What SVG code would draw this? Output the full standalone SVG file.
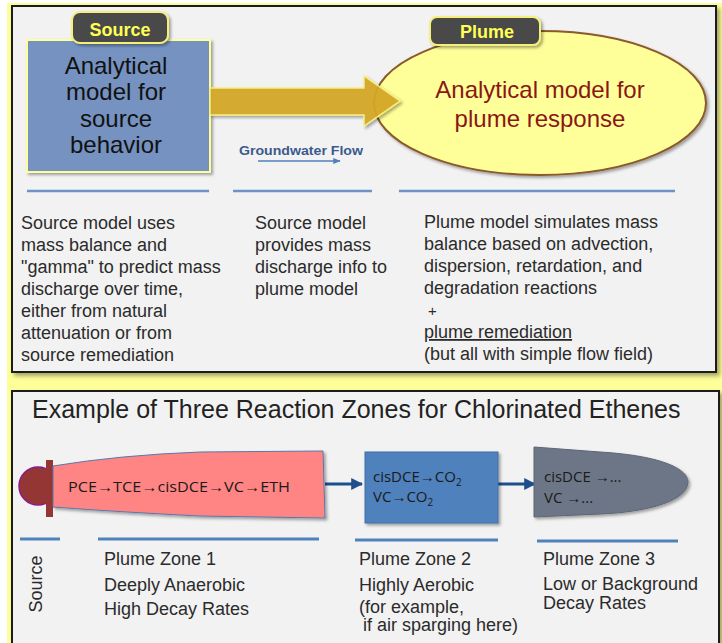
<svg xmlns="http://www.w3.org/2000/svg" width="722" height="643" viewBox="0 0 722 643">
<defs>
<filter id="sh" x="-10%" y="-10%" width="130%" height="130%"><feDropShadow dx="3" dy="3" stdDeviation="2" flood-color="#6b6b3a" flood-opacity="0.6"/></filter>
<filter id="sh2" x="-10%" y="-10%" width="130%" height="130%"><feDropShadow dx="2" dy="2" stdDeviation="1.5" flood-color="#000" flood-opacity="0.35"/></filter>
<marker id="ah" viewBox="0 0 10 10" refX="9" refY="5" markerWidth="4" markerHeight="4" orient="auto"><path d="M0,0 L10,5 L0,10 Z" fill="#1f4e8c"/></marker>
<marker id="ah2" viewBox="0 0 10 10" refX="9" refY="5" markerWidth="5" markerHeight="5" orient="auto"><path d="M0,1 L10,5 L0,9 Z" fill="#4f7fbf"/></marker>
</defs>
<style>
.t{font-family:"Liberation Sans",Arial,sans-serif;fill:#2b2b2b;font-size:18px}
.big{font-family:"Liberation Sans",Arial,sans-serif;font-size:24px;text-anchor:middle}
.lab{font-family:"Liberation Sans",Arial,sans-serif;font-size:18px;font-weight:bold;fill:#ffff55;text-anchor:middle}
.tag{fill:#4a4a4a;stroke:#f4f07a;stroke-width:2}
.sep{stroke:#6f93c5;stroke-width:2.5}
.sep2{stroke:#4f81bd;stroke-width:3}
.chem{font-family:"Open Sans","Noto Sans",sans-serif;font-size:15px;fill:#1a1a1a}
</style>
<rect x="0" y="0" width="722" height="643" fill="#ffffff"/>
<rect x="7" y="3" width="715" height="640" fill="#ffff99"/>
<rect x="12" y="6" width="704" height="366" fill="#f2f2f2" stroke="#1e1e1e" stroke-width="2" filter="url(#sh)"/>
<rect x="12" y="391" width="707" height="262" fill="#f2f2f2" stroke="#1e1e1e" stroke-width="2" filter="url(#sh)"/>

<g id="source-model">
<rect x="27" y="40" width="183" height="132" fill="#7592c0" stroke="#ffff99" stroke-width="2" filter="url(#sh2)"/>
<text class="big" fill="#111"><tspan x="116" y="74">Analytical</tspan><tspan x="116" y="100">model for</tspan><tspan x="116" y="127">source</tspan><tspan x="116" y="153">behavior</tspan></text>
</g>
<g id="source-tag">
<rect class="tag" x="72" y="12" width="96" height="31" rx="8" filter="url(#sh2)"/>
<text class="lab" x="120" y="36">Source</text>
</g>

<g id="plume-model">
<ellipse cx="540" cy="103" rx="166" ry="72" fill="#ffff99" stroke="#8b5a2b" stroke-width="2" filter="url(#sh2)"/>
<text class="big" fill="#8b1616"><tspan x="540" y="98">Analytical model for</tspan><tspan x="540" y="127">plume response</tspan></text>
</g>
<g id="plume-tag">
<rect class="tag" x="430" y="17" width="110" height="28" rx="7" filter="url(#sh2)"/>
<text class="lab" x="487" y="38">Plume</text>
</g>

<g id="connectors">
<path d="M210,88 L364,88 L364,76 L400,101 L364,126 L364,115 L210,115 Z" fill="#d4a727" stroke="#f5ef80" stroke-width="1.5" opacity="0.95" filter="url(#sh2)"/>
<line x1="258" y1="161" x2="340" y2="161" stroke="#4f7fbf" stroke-width="1.5" marker-end="url(#ah2)"/>
<line x1="325" y1="484" x2="362" y2="484" stroke="#1f4e8c" stroke-width="3" marker-end="url(#ah)"/>
<line x1="498" y1="484" x2="535" y2="484" stroke="#1f4e8c" stroke-width="3" marker-end="url(#ah)"/>
</g>
<text x="239" y="155" font-family="Liberation Sans,Arial,sans-serif" font-size="13" font-weight="bold" fill="#3c5a8c" textLength="124" lengthAdjust="spacingAndGlyphs">Groundwater Flow</text>

<g id="top-separators">
<line class="sep" x1="27" y1="191" x2="209" y2="191"/>
<line class="sep" x1="233" y1="191" x2="372" y2="191"/>
<line class="sep" x1="399" y1="191" x2="675" y2="191"/>
</g>

<g id="source-desc">
<text class="t"><tspan x="21" y="229">Source model uses</tspan><tspan x="21" y="251">mass balance and</tspan><tspan x="21" y="273">"gamma" to predict mass</tspan><tspan x="21" y="295">discharge over time,</tspan><tspan x="21" y="317">either from natural</tspan><tspan x="21" y="339">attenuation or from</tspan><tspan x="21" y="361">source remediation</tspan></text>
</g>
<g id="link-desc">
<text class="t"><tspan x="255" y="229">Source model</tspan><tspan x="255" y="251">provides mass</tspan><tspan x="255" y="273">discharge info to</tspan><tspan x="255" y="295">plume model</tspan></text>
</g>
<g id="plume-desc">
<text class="t"><tspan x="424" y="228">Plume model simulates mass</tspan><tspan x="424" y="250">balance based on advection,</tspan><tspan x="424" y="272">dispersion, retardation, and</tspan><tspan x="424" y="294">degradation reactions</tspan><tspan x="428" y="316" font-size="15">+</tspan><tspan x="424" y="338" text-decoration="underline">plume remediation</tspan><tspan x="424" y="360">(but all with simple flow field)</tspan></text>
</g>

<text x="32" y="418" font-family="Liberation Sans,Arial,sans-serif" font-size="25" fill="#222">Example of Three Reaction Zones for Chlorinated Ethenes</text>

<g id="source-zone">
<circle cx="38" cy="486" r="19" fill="#943634" stroke="#8a1a8a" stroke-width="1.5"/>
<rect x="46" y="460" width="7" height="57" fill="#943634"/>
</g>
<g id="zone1">
<path d="M53,466 Q120,455 200,452 L323,451 L325,518 L200,516 Q120,512 53,507 Z" fill="#ff8585" stroke="#5a78a8" stroke-width="1" filter="url(#sh2)"/>
<text class="chem" x="68" y="492" textLength="222" lengthAdjust="spacingAndGlyphs">PCE→TCE→cisDCE→VC→ETH</text>
</g>
<g id="zone2">
<rect x="365" y="452" width="133" height="71" fill="#4f81bd" stroke="#3f6ea8" stroke-width="1" filter="url(#sh2)"/>
<text class="chem"><tspan x="373" y="482">cisDCE→CO</tspan><tspan font-size="10" dy="4">2</tspan><tspan x="373" y="502">VC→CO</tspan><tspan font-size="10" dy="4">2</tspan></text>
</g>
<g id="zone3">
<path d="M534,447 L600,452 C665,456 688,470 688,482 C688,500 650,512 600,514 L534,517 Z" fill="#6d7686" stroke="#5d6675" stroke-width="1" filter="url(#sh2)"/>
<text class="chem"><tspan x="544" y="482">cisDCE →...</tspan><tspan x="544" y="503">VC →...</tspan></text>
</g>

<g id="bottom-separators">
<line class="sep2" x1="20" y1="539" x2="60" y2="539"/>
<line class="sep2" x1="98" y1="539" x2="319" y2="539"/>
<line class="sep2" x1="355" y1="540" x2="498" y2="540"/>
<line class="sep2" x1="537" y1="541" x2="678" y2="541"/>
</g>

<g id="zone-labels">
<text class="t" transform="translate(42,584) rotate(-90)" text-anchor="middle" font-size="17">Source</text>
<text class="t"><tspan x="104" y="565">Plume  Zone 1</tspan><tspan x="104" y="591">Deeply Anaerobic</tspan><tspan x="104" y="615">High Decay Rates</tspan></text>
<text class="t"><tspan x="359" y="565">Plume Zone 2</tspan><tspan x="359" y="591">Highly Aerobic</tspan><tspan x="359" y="613">(for example,</tspan><tspan x="363" y="631">if air sparging here)</tspan></text>
<text class="t"><tspan x="543" y="565">Plume Zone 3</tspan><tspan x="543" y="590">Low or Background</tspan><tspan x="543" y="609">Decay Rates</tspan></text>
</g>
</svg>
